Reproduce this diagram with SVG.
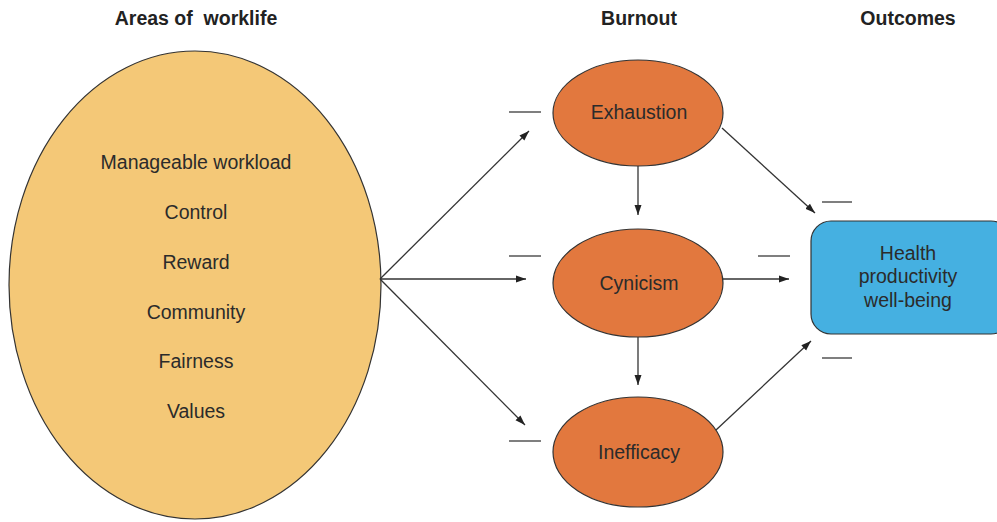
<svg xmlns="http://www.w3.org/2000/svg" width="997" height="522" viewBox="0 0 997 522">
<defs>
<marker id="arr" viewBox="0 0 10 10" refX="10" refY="5" markerWidth="10" markerHeight="10" markerUnits="userSpaceOnUse" orient="auto">
<path d="M0,1.5 L10,5 L0,8.5 z" fill="#222"/>
</marker>
<style>
text{font-family:"Liberation Sans",Arial,sans-serif;fill:#2b2b2b;text-anchor:middle}
.h{font-weight:bold;font-size:19.5px;fill:#222}
.t{font-size:19.5px}
.node{stroke:#333;stroke-width:1.2}
.c{stroke:#333;stroke-width:1.3;fill:none}
.d{stroke:#555;stroke-width:1.5}
</style>
</defs>
<rect width="997" height="522" fill="#fff"/>
<g id="headers">
<text class="h" x="196" y="25" xml:space="preserve">Areas of  worklife</text>
<text class="h" x="639" y="25">Burnout</text>
<text class="h" x="908" y="25">Outcomes</text>
</g>
<g id="areas">
<ellipse class="node" cx="195" cy="285" rx="186" ry="234" fill="#F4C877"/>
<text class="t" x="196" y="169">Manageable workload</text>
<text class="t" x="196" y="219">Control</text>
<text class="t" x="196" y="269">Reward</text>
<text class="t" x="196" y="319">Community</text>
<text class="t" x="196" y="368">Fairness</text>
<text class="t" x="196" y="418">Values</text>
</g>
<g id="exhaustion">
<ellipse class="node" cx="638" cy="113" rx="85" ry="53" fill="#E2783E"/>
<text class="t" x="639" y="119">Exhaustion</text>
</g>
<g id="cynicism">
<ellipse class="node" cx="638" cy="283" rx="85" ry="54" fill="#E2783E"/>
<text class="t" x="639" y="290">Cynicism</text>
</g>
<g id="inefficacy">
<ellipse class="node" cx="638" cy="452" rx="85" ry="55" fill="#E2783E"/>
<text class="t" x="639" y="459">Inefficacy</text>
</g>
<g id="outcomes">
<rect class="node" x="811" y="221" width="200" height="113" rx="20" fill="#45B0E1"/>
<text class="t" x="908" y="260">Health</text>
<text class="t" x="908" y="283">productivity</text>
<text class="t" x="908" y="307">well-being</text>
</g>
<g id="connectors">
<line class="c" x1="380" y1="279" x2="529" y2="131" marker-end="url(#arr)"/>
<line class="c" x1="380" y1="279" x2="526" y2="279" marker-end="url(#arr)"/>
<line class="c" x1="380" y1="279" x2="525" y2="425" marker-end="url(#arr)"/>
<line class="c" x1="638" y1="166" x2="638" y2="215" marker-end="url(#arr)"/>
<line class="c" x1="638" y1="337" x2="638" y2="385" marker-end="url(#arr)"/>
<line class="c" x1="722" y1="128" x2="815" y2="213" marker-end="url(#arr)"/>
<line class="c" x1="723" y1="279" x2="789" y2="279" marker-end="url(#arr)"/>
<line class="c" x1="716" y1="430" x2="811" y2="341" marker-end="url(#arr)"/>
</g>
<g id="dashes">
<line class="d" x1="509" y1="112" x2="541" y2="112"/>
<line class="d" x1="509" y1="256" x2="541" y2="256"/>
<line class="d" x1="509" y1="441" x2="541" y2="441"/>
<line class="d" x1="758" y1="256" x2="790" y2="256"/>
<line class="d" x1="822" y1="202" x2="852" y2="202"/>
<line class="d" x1="822" y1="358" x2="852" y2="358"/>
</g>
</svg>
